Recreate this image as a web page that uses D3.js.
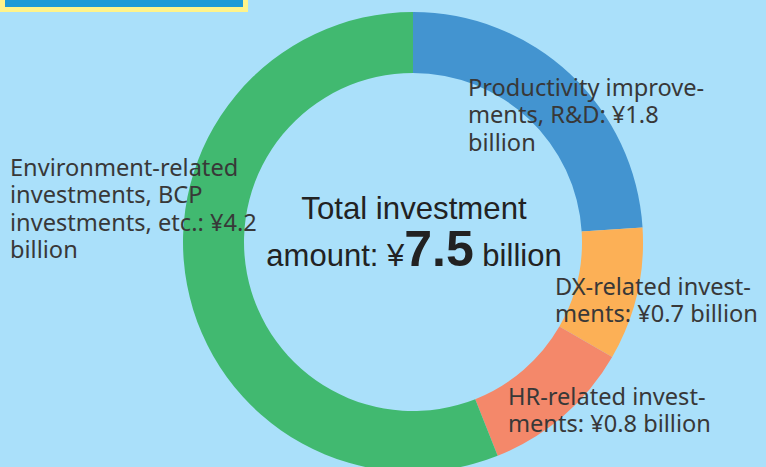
<!DOCTYPE html>
<html>
<head>
<meta charset="utf-8">
<script src="https://cdn.jsdelivr.net/npm/d3@7"></script>
<style>
  html, body { margin: 0; padding: 0; background: #aae0fa; }
  svg { display: block; }
</style>
</head>
<body>
<script>
// Data
const categories = ['Productivity', 'DX', 'HR', 'Environment'];
const values     = [1.8, 0.7, 0.8, 4.2];
const labelLines = [
  ['Productivity improve-', 'ments, R&D: ¥1.8', 'billion'],
  ['DX-related invest-', 'ments: ¥0.7 billion'],
  ['HR-related invest-', 'ments: ¥0.8 billion'],
  ['Environment-related', 'investments, BCP', 'investments, etc.: ¥4.2', 'billion']
];
const totalLabel = ['Total investment', 'amount: ¥', '7.5', ' billion'];

// Dimensions
const W = 766, H = 467;
const CX = 413, CY = 242;
const R_OUT = 230, R_IN = 169;

// Colors
const BG = '#aae0fa';
const FG = '#383838';
const COLORS = ['#4394d0', '#fcb056', '#f4886a', '#41b970'];

// label anchors (x of first line start, baseline of first line)
const labelAnchor = {
  Productivity: [468, 96],
  DX:           [555, 295],
  HR:           [508, 405],
  Environment:  [10, 176]
};
const LINE_H = 27.3;
const LABEL_FONT = "'Noto Sans', sans-serif";

const color = d3.scaleOrdinal().domain(categories).range(COLORS);

const svg = d3.select('body').append('svg')
  .attr('width', W)
  .attr('height', H);

svg.append('rect')
  .attr('width', W).attr('height', H)
  .attr('fill', BG);

// Title box, cut off at top
svg.append('rect')
  .attr('x', -4).attr('y', -10)
  .attr('width', 252).attr('height', 22)
  .attr('fill', '#fff38a');
svg.append('rect')
  .attr('x', 5).attr('y', -10)
  .attr('width', 238).attr('height', 17)
  .attr('fill', '#1e9ad6');

// Donut
const pie = d3.pie().sort(null).value(d => d.value);
const arc = d3.arc().innerRadius(R_IN).outerRadius(R_OUT);
const data = categories.map((c, i) => ({ cat: c, value: values[i] }));

const g = svg.append('g')
  .attr('transform', `translate(${CX},${CY})`);

g.selectAll('path')
  .data(pie(data))
  .join('path')
  .attr('d', arc)
  .attr('fill', d => color(d.data.cat));

// Labels
categories.forEach((c, i) => {
  const [x, y] = labelAnchor[c];
  const t = svg.append('text')
    .attr('x', x).attr('y', y)
    .attr('font-family', LABEL_FONT)
    .attr('font-size', '23.6px')
    .attr('fill', FG);
  labelLines[i].forEach((line, j) => {
    t.append('tspan')
      .attr('x', x)
      .attr('y', y + j * LINE_H)
      .text(line);
  });
});

// Centre text
svg.append('text')
  .attr('x', 414).attr('y', 219)
  .attr('text-anchor', 'middle')
  .attr('font-family', "'Liberation Sans', Arial, sans-serif")
  .attr('font-size', '31.2px')
  .attr('fill', '#222')
  .text(totalLabel[0]);

const t2 = svg.append('text')
  .attr('x', 414).attr('y', 266)
  .attr('text-anchor', 'middle')
  .attr('font-family', "'Liberation Sans', Arial, sans-serif")
  .attr('font-size', '31px')
  .attr('fill', '#222');
t2.append('tspan').text(totalLabel[1]);
t2.append('tspan')
  .attr('font-size', '50px')
  .attr('font-weight', 'bold')
  .text(totalLabel[2]);
t2.append('tspan').text(totalLabel[3]);
</script>
</body>
</html>
